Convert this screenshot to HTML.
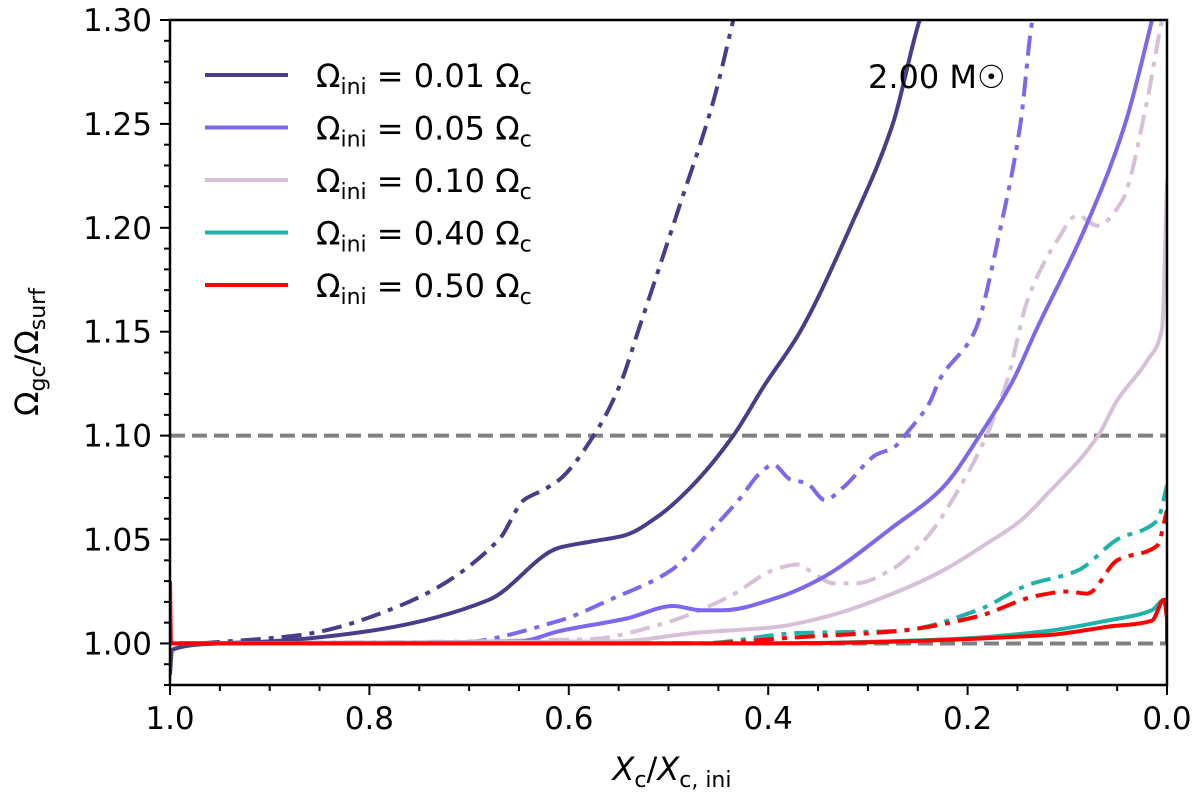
<!DOCTYPE html>
<html><head><meta charset="utf-8"><style>
html,body{margin:0;padding:0;background:#fff;}
svg{display:block;font-family:"DejaVu Sans","Liberation Sans",sans-serif;}
</style></head><body>
<svg id="chart" width="1200" height="797">
<g id="plot"></g>
</svg>
<script>
const xTicks=[1.0,0.8,0.6,0.4,0.2,0.0];
const yTicks=[1.00,1.05,1.10,1.15,1.20,1.25,1.30];
const refLines=[1.00,1.10];
const labels=["0.01","0.05","0.10","0.40","0.50"];
const colors=["#483d8b","#7b68ee","#d8bfd8","#20b2aa","#ff0000"];
const s1x=[1.0,0.998,0.95,0.9,0.8,0.68,0.61,0.578,0.544,0.511,0.478,0.435,0.404,0.368,0.318,0.275,0.248,0.24];
const s1y=[0.985,0.997,1.0,1.001,1.006,1.021,1.046,1.049,1.052,1.061,1.075,1.10,1.124,1.15,1.20,1.25,1.30,1.31];
const s1dx=[0.97,0.87,0.77,0.67,0.645,0.625,0.609,0.575,0.549,0.53,0.49,0.455,0.435,0.43];
const s1dy=[1.0,1.004,1.018,1.050,1.069,1.074,1.079,1.10,1.124,1.151,1.209,1.261,1.30,1.31];
const s2x=[0.99,0.65,0.609,0.542,0.495,0.468,0.445,0.391,0.348,0.275,0.225,0.188,0.154,0.132,0.082,0.042,0.015,0.01];
const s2y=[1.0,1.001,1.006,1.012,1.018,1.016,1.016,1.022,1.031,1.056,1.075,1.10,1.127,1.15,1.20,1.25,1.30,1.31];
const s2dx=[0.99,0.72,0.609,0.559,0.498,0.458,0.428,0.408,0.395,0.378,0.361,0.343,0.325,0.291,0.275,0.258,0.238,0.228,0.193,0.167,0.147,0.135,0.13];
const s2dy=[1.0,1.0,1.011,1.021,1.035,1.054,1.07,1.082,1.086,1.079,1.077,1.069,1.075,1.091,1.094,1.103,1.116,1.127,1.15,1.20,1.25,1.30,1.31];
const s3x=[0.99,0.55,0.475,0.391,0.341,0.275,0.225,0.181,0.147,0.12,0.069,0.05,0.02,0.005,0.0];
const s3y=[1.0,1.001,1.005,1.008,1.013,1.024,1.035,1.048,1.059,1.072,1.10,1.117,1.136,1.151,1.223];
const s3dx=[0.99,0.58,0.509,0.441,0.391,0.371,0.355,0.335,0.311,0.278,0.241,0.208,0.181,0.16,0.14,0.11,0.09,0.07,0.045,0.02,0.005,0.0];
const s3dy=[1.0,1.002,1.009,1.022,1.036,1.038,1.034,1.029,1.029,1.035,1.051,1.075,1.10,1.127,1.165,1.194,1.206,1.201,1.213,1.261,1.30,1.31];
const s4x=[0.99,0.4,0.22,0.12,0.06,0.015,0.003,0.0];
const s4y=[1.0,1.0,1.002,1.006,1.011,1.016,1.021,1.021];
const s4dx=[0.99,0.47,0.37,0.27,0.19,0.14,0.09,0.05,0.01,0.0];
const s4dy=[1.0,1.0,1.005,1.006,1.016,1.028,1.035,1.05,1.059,1.076];
const s5x=[1.0,0.999,0.99,0.4,0.12,0.06,0.015,0.003,0.0,0.0];
const s5y=[1.03,1.0,1.0,1.0,1.004,1.008,1.011,1.021,1.012,1.0];
const s5dx=[0.99,0.47,0.37,0.27,0.19,0.13,0.1,0.08,0.05,0.01,0.0];
const s5dy=[1.0,1.0,1.003,1.006,1.013,1.023,1.025,1.024,1.04,1.047,1.064];
const series=[[s1x,s1y,s1dx,s1dy],[s2x,s2y,s2dx,s2dy],[s3x,s3y,s3dx,s3dy],[s4x,s4y,s4dx,s4dy],[s5x,s5y,s5dx,s5dy]];

const L=170,R=1167,T=20,B=685,yMin=0.98,yMax=1.30;
const X=v=>L+(1-v)*(R-L);
const Y=v=>B-(v-yMin)/(yMax-yMin)*(B-T);
const NS="http://www.w3.org/2000/svg";
const g=document.getElementById('plot');
function mk(t,a,p){const e=document.createElementNS(NS,t);for(const k in a)e.setAttribute(k,a[k]);(p||g).appendChild(e);return e;}
const clip=mk('clipPath',{id:'cp'});mk('rect',{x:L,y:T,width:R-L,height:B-T},clip);

refLines.forEach(v=>{const e=mk('line',{x1:L,x2:R,y1:Y(v),y2:Y(v),stroke:'#808080','stroke-width':4,'stroke-dasharray':'15,7'});

});

function path(xs,ys,c,dash){
 const P=xs.map((x,i)=>[X(x),Y(ys[i])]);
 const n=P.length;const h=[],s=[];
 for(let i=0;i<n-1;i++){h[i]=P[i+1][0]-P[i][0];s[i]=h[i]>0.01?(P[i+1][1]-P[i][1])/h[i]:null;}
 const m=[];
 for(let i=0;i<n;i++){
  const a=i>0?s[i-1]:null,b=i<n-1?s[i]:null;
  if(a==null&&b==null)m[i]=0;else if(a==null)m[i]=b;else if(b==null)m[i]=a;
  else if(a*b<=0)m[i]=0;else{const w1=2*h[i]+h[i-1],w2=h[i]+2*h[i-1];m[i]=(w1+w2)/(w1/a+w2/b);}
 }
 let d='M'+P[0][0].toFixed(1)+','+P[0][1].toFixed(1);
 for(let i=0;i<n-1;i++){
  const p1=P[i],p2=P[i+1];
  if(s[i]==null){d+='L'+p2[0].toFixed(1)+','+p2[1].toFixed(1);continue;}
  const dx=h[i]/3;
  d+='C'+(p1[0]+dx).toFixed(1)+','+(p1[1]+m[i]*dx).toFixed(1)+' '+(p2[0]-dx).toFixed(1)+','+(p2[1]-m[i+1]*dx).toFixed(1)+' '+p2[0].toFixed(1)+','+p2[1].toFixed(1);
 }
 const a={d:d,fill:'none',stroke:c,'stroke-width':4,'clip-path':'url(#cp)','stroke-linejoin':'round'};
 if(dash)a['stroke-dasharray']='20,8,5,8';return mk('path',a);}
series.forEach((s,i)=>{
 const a=path(s[2],s[3],colors[i],true);
 
 
});
series.forEach((s,i)=>{
 const a=path(s[0],s[1],colors[i],false);
 
 
});

const fr=mk('rect',{x:L,y:T,width:R-L,height:B-T,fill:'none',stroke:'#000','stroke-width':2.5});


for(let i=0;i<=20;i++){const v=1-i*0.05;const maj=i%4===0;mk('line',{x1:X(v),x2:X(v),y1:B,y2:B+(maj?10:6),stroke:'#000','stroke-width':2});}
for(let i=0;i<=32;i++){const v=0.98+i*0.01;const maj=Math.abs(((v-1)/0.05)-Math.round((v-1)/0.05))<1e-6;mk('line',{x1:L,x2:L-(maj?10:6),y1:Y(v),y2:Y(v),stroke:'#000','stroke-width':2});}
xTicks.forEach(v=>{const t=mk('text',{x:X(v),y:729,'font-size':31,'text-anchor':'middle'});t.textContent=v.toFixed(1);

});
yTicks.forEach(v=>{const t=mk('text',{x:152,y:Y(v)+11,'font-size':31,'text-anchor':'end'});t.textContent=v.toFixed(2);

});

const xt=mk('text',{x:672,y:780,'font-size':32,'text-anchor':'middle'});
xt.innerHTML='<tspan font-style="italic">X</tspan><tspan font-size="22" dy="7">c</tspan><tspan dy="-7">/</tspan><tspan font-style="italic">X</tspan><tspan font-size="22" dy="7">c, ini</tspan>';


const yt=mk('text',{x:0,y:0,'font-size':32,'text-anchor':'middle',transform:'translate(38,352) rotate(-90)'});
yt.innerHTML='Ω<tspan font-size="22" dy="7">gc</tspan><tspan dy="-7">/Ω</tspan><tspan font-size="22" dy="7">surf</tspan>';



labels.forEach((lb,i)=>{const y=75+i*52.5;
 const ln=mk('line',{x1:205,x2:288,y1:y,y2:y,stroke:colors[i],'stroke-width':4});
 
 
 const t=mk('text',{x:316,y:y+12,'font-size':32});
 t.innerHTML='Ω<tspan font-size="22" dy="7">ini</tspan><tspan dy="-7"> = '+lb+' Ω</tspan><tspan font-size="22" dy="7">c</tspan>';
 
 
});
const m=mk('text',{x:868,y:88,'font-size':32});m.textContent='2.00 M☉';


</script>
</body></html>
